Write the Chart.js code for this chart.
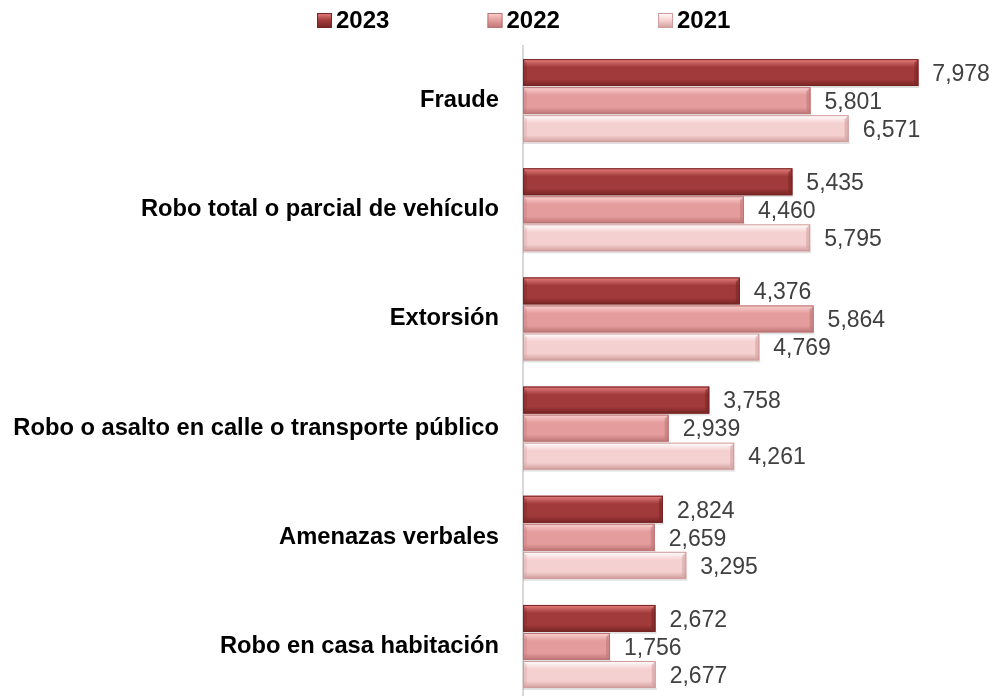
<!DOCTYPE html>
<html>
<head>
<meta charset="utf-8">
<script src="https://cdn.jsdelivr.net/npm/chart.js@4.4.1/dist/chart.umd.min.js"></script>
<style>
  html, body { margin:0; padding:0; background:#fff; overflow:hidden; }
  canvas { display:block; }
</style>
</head>
<body>
<canvas id="chart" width="993" height="701"></canvas>
<script>
const categories = ['Fraude', 'Robo total o parcial de vehículo', 'Extorsión',
    'Robo o asalto en calle o transporte público', 'Amenazas verbales', 'Robo en casa habitación'];
const years = ['2023', '2022', '2021'];
const values2023 = [7978, 5435, 4376, 3758, 2824, 2672];
const values2022 = [5801, 4460, 5864, 2939, 2659, 1756];
const values2021 = [6571, 5795, 4769, 4261, 3295, 2677];

// light / base / dark shades per series
const shades = [
    ['#e88080', '#a13a3a', '#752424'],
    ['#fad2d2', '#e59c9c', '#bb7474'],
    ['#ffffff', '#f5d0d0', '#d09c9c']
];
const FONT = "'Liberation Sans', Arial, sans-serif";

function fmt(v){ return v.toLocaleString('en-US'); }

// bevelled bars drawn over the library's bar elements, plus value labels
const bevelPlugin = {
    id: 'bevel',
    afterDatasetsDraw(chart) {
        const ctx = chart.ctx;
        chart.data.datasets.forEach((ds, di) => {
            const meta = chart.getDatasetMeta(di);
            const sh = shades[di];
            meta.data.forEach((bar, idx) => {
                const p = bar.getProps(['x','y','base','height'], true);
                const L = p.base, R = p.x, T = p.y - p.height/2, B = p.y + p.height/2;
                const b = 4;
                ctx.save();
                ctx.fillStyle = 'rgba(0,0,0,0.12)';
                ctx.fillRect(L, B, R - L + 1, 2);
                const g = ctx.createLinearGradient(0, T, 0, B);
                g.addColorStop(0, sh[0]);
                g.addColorStop(0.3, sh[1]);
                g.addColorStop(0.75, sh[1]);
                g.addColorStop(1, sh[2]);
                ctx.fillStyle = g;
                ctx.fillRect(L, T, R - L, B - T);
                ctx.beginPath();
                ctx.moveTo(R, T); ctx.lineTo(R, B); ctx.lineTo(R - b, B - b); ctx.lineTo(R - b, T + b); ctx.closePath();
                ctx.fillStyle = sh[2]; ctx.globalAlpha = 0.55; ctx.fill();
                ctx.beginPath();
                ctx.moveTo(L, T); ctx.lineTo(L + b, T + b); ctx.lineTo(L + b, B - b); ctx.lineTo(L, B); ctx.closePath();
                ctx.fillStyle = sh[2]; ctx.globalAlpha = 0.3; ctx.fill();
                ctx.globalAlpha = 1;
                ctx.strokeStyle = sh[2];
                ctx.lineWidth = 1;
                ctx.strokeRect(L + 0.5, T + 0.5, R - L - 1, B - T - 1);
                ctx.restore();

                ctx.save();
                ctx.font = '23px ' + FONT;
                ctx.fillStyle = '#404040';
                ctx.textAlign = 'left';
                ctx.textBaseline = 'middle';
                ctx.fillText(fmt(ds.data[idx]), R + 14, p.y + 2);
                ctx.restore();
            });
        });
    }
};

// legend drawn at top
const legendPlugin = {
    id: 'topLegend',
    afterDraw(chart) {
        const ctx = chart.ctx;
        ctx.save();
        ctx.font = 'bold 24px ' + FONT;
        ctx.textBaseline = 'alphabetic';
        chart.data.datasets.forEach((ds, i) => {
            const x = 317 + i * 170.5;
            const sh = shades[i];
            const g = ctx.createLinearGradient(0, 13, 0, 28);
            g.addColorStop(0, sh[0]); g.addColorStop(0.5, sh[1]); g.addColorStop(1, sh[2]);
            ctx.fillStyle = g;
            ctx.fillRect(x, 13, 15, 15);
            ctx.strokeStyle = sh[2];
            ctx.strokeRect(x + 0.5, 13.5, 14, 14);
            ctx.fillStyle = '#000';
            ctx.fillText(ds.label, x + 19, 28);
        });
        ctx.restore();
    }
};

const datasets = [values2023, values2022, values2021].map((vals, i) => ({
    label: years[i],
    data: vals,
    backgroundColor: shades[i][1],
    borderWidth: 0,
    barPercentage: 0.96,
    categoryPercentage: 0.77
}));

new Chart(document.getElementById('chart'), {
    type: 'bar',
    data: { labels: categories, datasets },
    options: {
        indexAxis: 'y',
        responsive: false,
        animation: false,
        layout: { padding: { top: 46, right: 24, bottom: 0, left: 0 } },
        plugins: { legend: { display: false }, tooltip: { enabled: false } },
        scales: {
            x: { display: false, min: 0, max: 9000 },
            y: {
                grid: { display: false, drawTicks: false },
                border: { display: true, color: '#d9d9d9', width: 2 },
                ticks: { color: '#000', padding: 24, font: { family: FONT, size: 23.7, weight: 'bold' } },
                afterFit(scale) {
                    scale.width = 523;
                    scale.paddingTop = 0;
                    scale.paddingBottom = 0;
                }
            }
        }
    },
    plugins: [bevelPlugin, legendPlugin]
});
</script>
</body>
</html>
